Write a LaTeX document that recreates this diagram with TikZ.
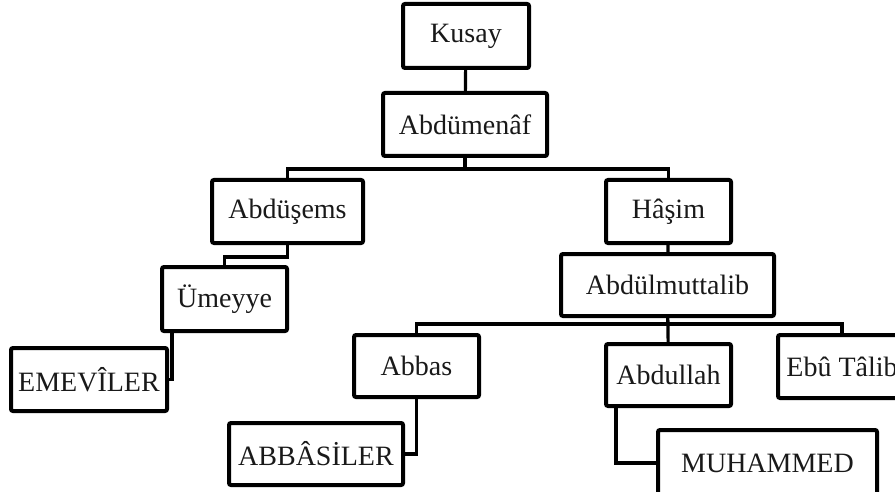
\documentclass[tikz,border=0pt]{standalone}
\usepackage{fontspec}
\setmainfont{Liberation Serif}
\usepackage{tikz}
\usetikzlibrary{calc}
\tikzset{kin/.style={draw=black, line width=2pt, rounded corners=1pt, inner sep=0pt,
  font=\fontsize{14}{16}\selectfont, text=black!90}}
\tikzset{link/.style={black, line width=1.6pt}}

\begin{document}
\begin{tikzpicture}[x=0.5pt, y=-0.5pt]
\useasboundingbox (0,0) rectangle (895,492);
\node[kin, minimum width=63pt, minimum height=32pt] (kusay) at (466,36) {Kusay};
\node[kin, minimum width=82pt, minimum height=31.5pt] (menaf) at (465,124.5) {Abdümenâf};
\node[kin, minimum width=75.5pt, minimum height=31.5pt] (sems) at (287.5,211.5) {Abdüşems};
\node[kin, minimum width=62.5pt, minimum height=31.5pt] (hasim) at (668.5,211.5) {Hâşim};
\node[kin, minimum width=62.5pt, minimum height=32pt] (umeyye) at (224.5,299) {Ümeyye};
\node[kin, minimum width=78pt, minimum height=31.5pt] (emevi) at (89,379.5) {EMEVÎLER};
\node[kin, minimum width=106.5pt, minimum height=31pt] (mutt) at (667.5,285) {Abdülmuttalib};
\node[kin, minimum width=62.5pt, minimum height=31pt] (abbas) at (416.5,366) {Abbas};
\node[kin, minimum width=62.5pt, minimum height=31pt] (abdullah) at (668.5,375) {Abdullah};
\node[kin, minimum width=64pt, minimum height=31.5pt] (ebu) at (842,366.5) {Ebû Tâlib};
\node[kin, minimum width=87pt, minimum height=31pt] (abbasi) at (316,454) {ABBÂSİLER};
\node[kin, minimum width=109.5pt, minimum height=33pt] (muh) at (767.5,463) {MUHAMMED};

% lines between the boxes
\draw[link] (kusay) -- (menaf);
\draw[link] (menaf.south) -- ++(0,11) -| (sems.north);
\draw[link] (menaf.south) -- ++(0,11) -| (hasim.north);
\draw[link] (sems.south) -- ++(0,12) -| (umeyye.north);
\draw[link] (umeyye.south west) ++(12,0) |- (emevi.east);
\draw[link] (hasim) -- (mutt);
\draw[link] (mutt.south) -- ++(0,6) -| (abbas.north);
\draw[link] (mutt.south) -- ++(0,6) -| (ebu.north);
\draw[link] (mutt) -- (abdullah);
\draw[link] (abbas.south) |- (abbasi.east);
\draw[link] (abdullah.south west) ++(12,0) |- (muh.west);
\end{tikzpicture}
\end{document}
